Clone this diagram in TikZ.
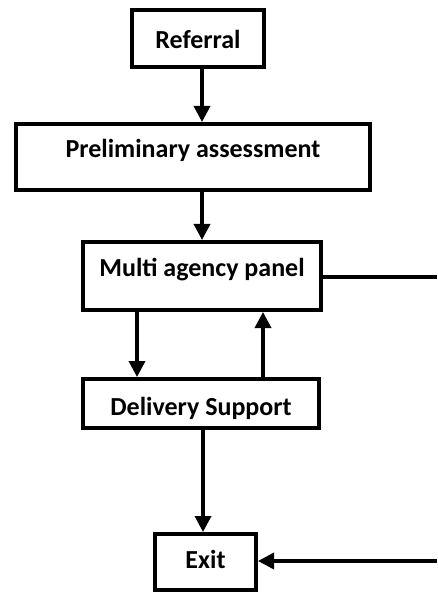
\documentclass[tikz,border=0pt]{standalone}
\usepackage{fontspec}
\setmainfont{Carlito}
\usepackage{tikz}
\usetikzlibrary{arrows.meta, positioning, calc}

\begin{document}
\begin{tikzpicture}[
  x=1pt, y=-1pt,
  box/.style={draw, line width=4pt, inner sep=0pt, font=\fontsize{26}{30}\selectfont\bfseries},
  arrow/.style={-{Triangle[length=16pt, width=16pt]}, line width=3.5pt},
  link/.style={line width=3.5pt}
]
  \useasboundingbox (0,0) rectangle (437,593);

  % Referral
  \node[box, minimum width=132pt, text height=39pt, text depth=18pt] (ref) at (198, 38.5) {Referral};

  % Preliminary assessment
  \node[box, minimum width=354pt, text height=34pt, text depth=32pt] (pre) at (193, 157) {Preliminary assessment};

  % Multi agency panel
  \node[box, minimum width=238pt, text height=34pt, text depth=34pt] (pan) at (202, 276) {Multi agency panel};

  % Delivery Support
  \node[box, minimum width=236pt, text height=36pt, text depth=13pt] (del) at (201, 403.5) {Delivery Support};

  % Exit
  \node[box, minimum width=101pt, text height=34pt, text depth=22pt] (ex) at (205.5, 562) {Exit};

  % free ends at the right edge
  \coordinate (panout) at (437, 277);
  \coordinate (exin) at (437, 561);

  \draw[arrow] ([xshift=4pt]ref.south) -- ([xshift=4pt]ref.south |- pre.north);
  \draw[arrow] (pre.south -| pan) -- (pan.north);
  \draw[arrow] ([xshift=-65pt]pan.south) -- ([xshift=-65pt]pan.south |- del.north);
  \draw[arrow] ([xshift=61pt]pan.south |- del.north) -- ([xshift=61pt]pan.south);
  \draw[arrow] ([xshift=2pt]del.south) -- ([xshift=2pt]del.south |- ex.north);

  \draw[link] (pan.east |- panout) -- (panout);
  \draw[arrow] (exin) -- (exin -| ex.east);
\end{tikzpicture}
\end{document}
